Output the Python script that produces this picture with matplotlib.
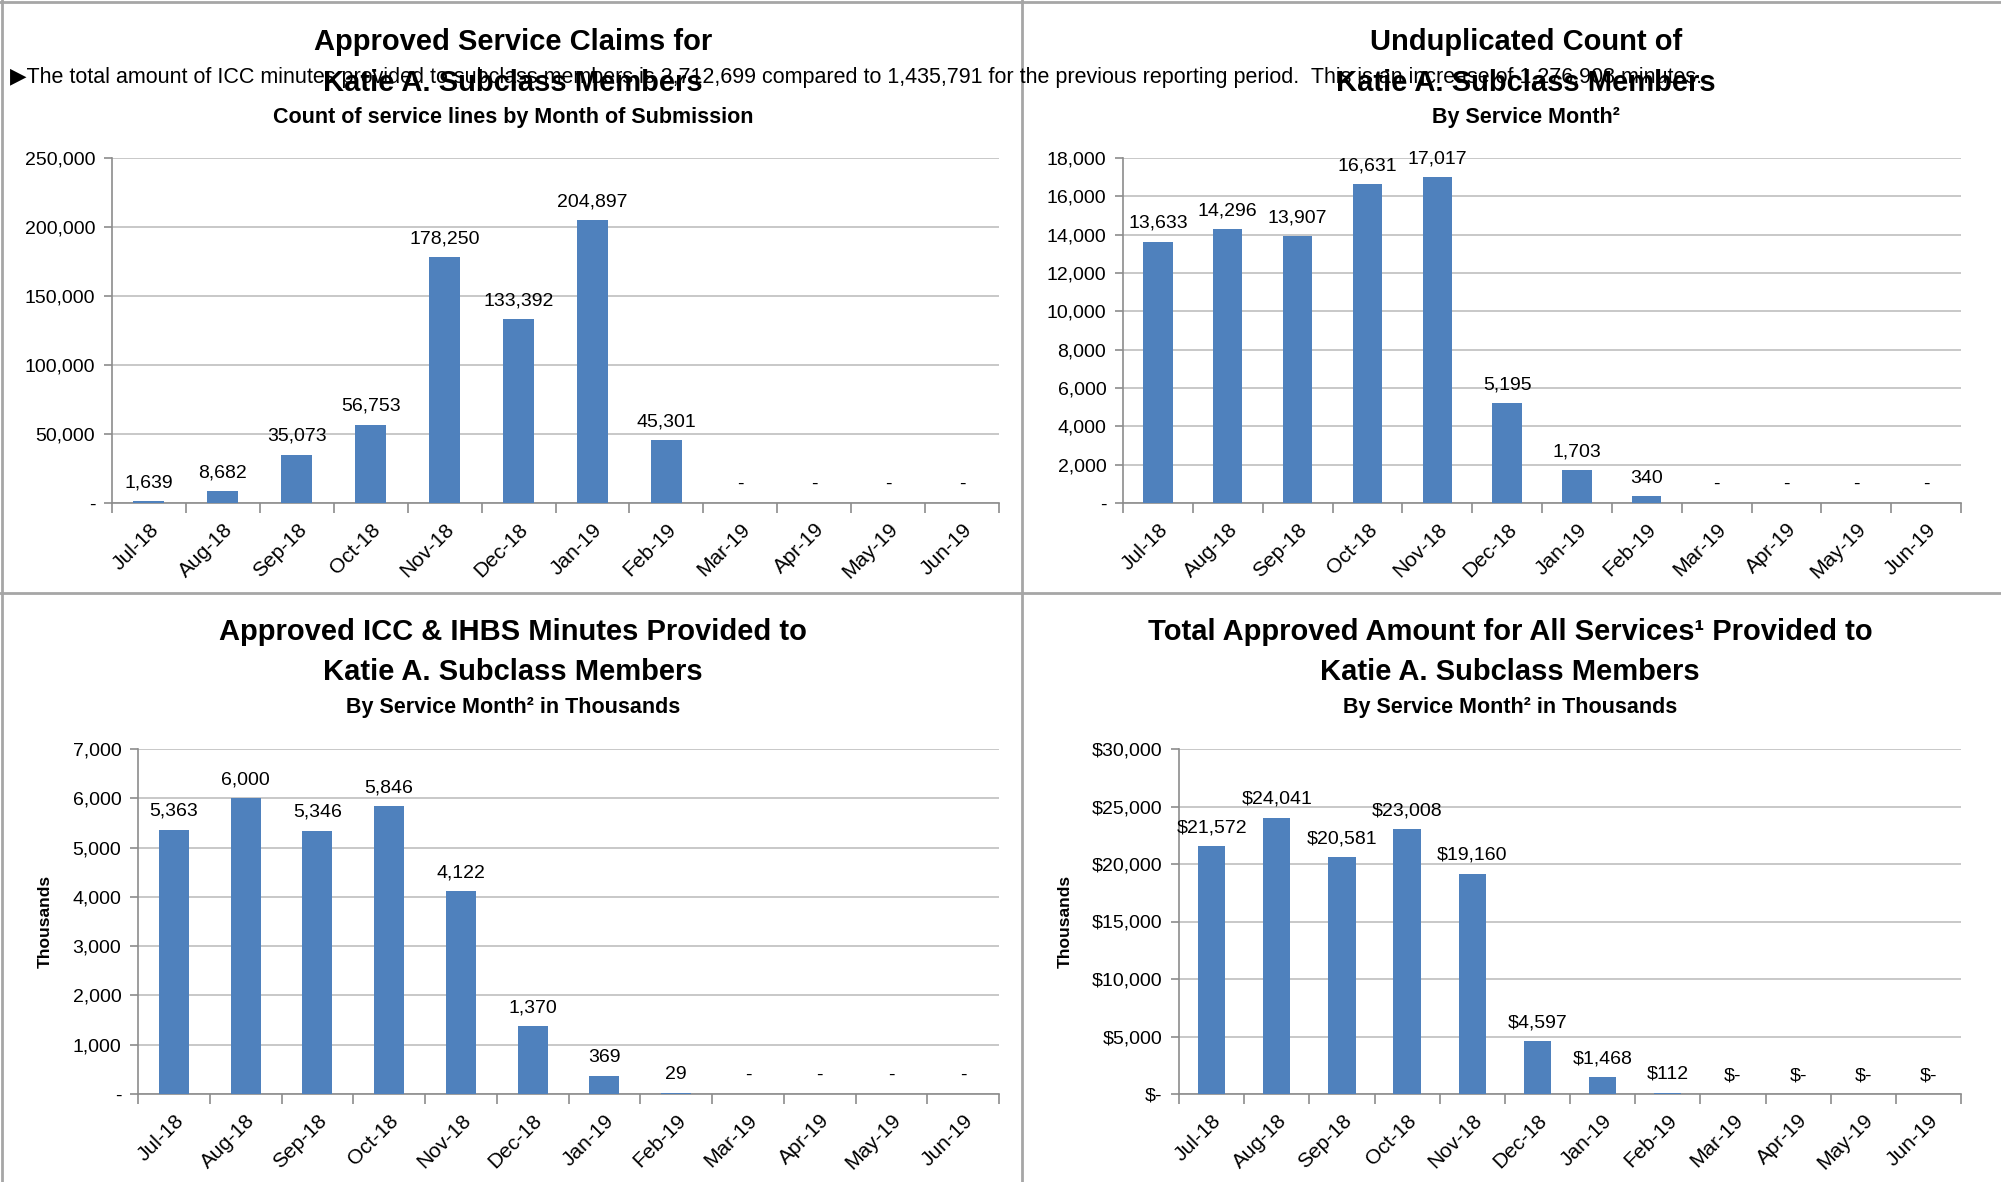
import matplotlib
matplotlib.use("Agg")
import matplotlib.pyplot as plt
from matplotlib.lines import Line2D
from matplotlib.ticker import FuncFormatter, MultipleLocator
import numpy as np

plt.rcParams["font.family"] = ["Liberation Sans", "DejaVu Sans"]

MONTHS = ["Jul-18", "Aug-18", "Sep-18", "Oct-18", "Nov-18", "Dec-18",
          "Jan-19", "Feb-19", "Mar-19", "Apr-19", "May-19", "Jun-19"]

claims = [1639, 8682, 35073, 56753, 178250, 133392, 204897, 45301, 0, 0, 0, 0]
members = [13633, 14296, 13907, 16631, 17017, 5195, 1703, 340, 0, 0, 0, 0]
minutes_k = [5363, 6000, 5346, 5846, 4122, 1370, 369, 29, 0, 0, 0, 0]
amount_k = [21572, 24041, 20581, 23008, 19160, 4597, 1468, 112, 0, 0, 0, 0]

NOTE = ("\u25B6The total amount of ICC minutes provided to subclass members is 2,712,699 "
        "compared to 1,435,791 for the previous reporting period.  "
        "This is an increase of 1,276,908 minutes.")

BAR = "#4F81BD"
GRID = "#BFBFBF"
W, H = 2001, 1182


def num_fmt(v):
    return "-" if v == 0 else f"{v:,.0f}"


def dollar_fmt(v):
    return "$-" if v == 0 else f"${v:,.0f}"


def draw_panel(fig, rect, values, ymax, step, fmt, ylabel=None):
    ax = fig.add_axes(rect)
    x = np.arange(len(MONTHS))
    ax.bar(x, values, width=0.42, color=BAR, zorder=3)
    ax.set_xlim(-0.5, len(MONTHS) - 0.5)
    ax.set_ylim(0, ymax)
    ax.yaxis.set_major_locator(MultipleLocator(step))
    ax.yaxis.set_major_formatter(FuncFormatter(lambda v, p: fmt(v)))
    ax.grid(axis="y", color=GRID, linewidth=1.2, zorder=0)
    for s in ["top", "right"]:
        ax.spines[s].set_visible(False)
    for s in ["left", "bottom"]:
        ax.spines[s].set_color("#8C8C8C")
        ax.spines[s].set_linewidth(1.2)
    ax.set_xticks(x)
    ax.set_xticklabels(MONTHS, rotation=45, ha="right", rotation_mode="anchor",
                       fontsize=15)
    ax.set_xticks(np.arange(len(MONTHS) + 1) - 0.5, minor=True)
    ax.tick_params(axis="x", which="major", length=0, pad=12)
    ax.tick_params(axis="x", which="minor", length=7, color="#8C8C8C", width=1.2)
    ax.tick_params(axis="y", length=6, color="#8C8C8C", width=1.2, labelsize=14, pad=6)
    for xi, v in zip(x, values):
        ax.annotate(fmt(v), (xi, v), xytext=(0, 7), textcoords="offset points",
                    ha="center", va="bottom", fontsize=14)
    if ylabel:
        ax.set_ylabel(ylabel, fontsize=12.5, fontweight="bold", labelpad=14)
    return ax


fig = plt.figure(figsize=(W / 100, H / 100), dpi=100)


def fx(px):
    return px / W


def fy(py):
    return 1 - py / H


def rect(l, t, r, b):
    return [fx(l), fy(b), fx(r - l), (b - t) / H]


draw_panel(fig, rect(112, 158, 999, 503), claims, 250000, 50000, num_fmt)
draw_panel(fig, rect(1123, 158, 1961, 503), members, 18000, 2000, num_fmt)
draw_panel(fig, rect(138, 749, 999, 1094), minutes_k, 7000, 1000, num_fmt, "Thousands")
draw_panel(fig, rect(1179, 749, 1961, 1094), amount_k, 30000, 5000, dollar_fmt, "Thousands")

# titles
title_kw = dict(ha="center", va="center", fontsize=21, fontweight="bold")
sub_kw = dict(ha="center", va="center", fontsize=15.5, fontweight="bold")
fig.text(fx(513), fy(42), "Approved Service Claims for", **title_kw)
fig.text(fx(513), fy(83), "Katie A. Subclass Members", **title_kw)
fig.text(fx(513), fy(117), "Count of service lines by Month of Submission", **sub_kw)

fig.text(fx(1526), fy(42), "Unduplicated Count of", **title_kw)
fig.text(fx(1526), fy(83), "Katie A. Subclass Members", **title_kw)
fig.text(fx(1526), fy(117), "By Service Month\u00B2", **sub_kw)

fig.text(fx(513), fy(632), "Approved ICC & IHBS Minutes Provided to", **title_kw)
fig.text(fx(513), fy(672), "Katie A. Subclass Members", **title_kw)
fig.text(fx(513), fy(708), "By Service Month\u00B2 in Thousands", **sub_kw)

fig.text(fx(1510), fy(632), "Total Approved Amount for All Services\u00B9 Provided to", **title_kw)
fig.text(fx(1510), fy(672), "Katie A. Subclass Members", **title_kw)
fig.text(fx(1510), fy(708), "By Service Month\u00B2 in Thousands", **sub_kw)

# note text that sits over the first titles, as in the source document
fig.text(fx(10), fy(77), NOTE, ha="left", va="center", fontsize=15.5)

# panel borders
border = "#A6A6A6"
for xs, ys in [([0, W], [2, 2]), ([2, 2], [0, H]), ([1022, 1022], [0, H]),
               ([0, W], [593, 593])]:
    fig.add_artist(Line2D([fx(v) for v in xs], [fy(v) for v in ys],
                          color=border, linewidth=2, transform=fig.transFigure))

fig.savefig("out.png", dpi=100)
